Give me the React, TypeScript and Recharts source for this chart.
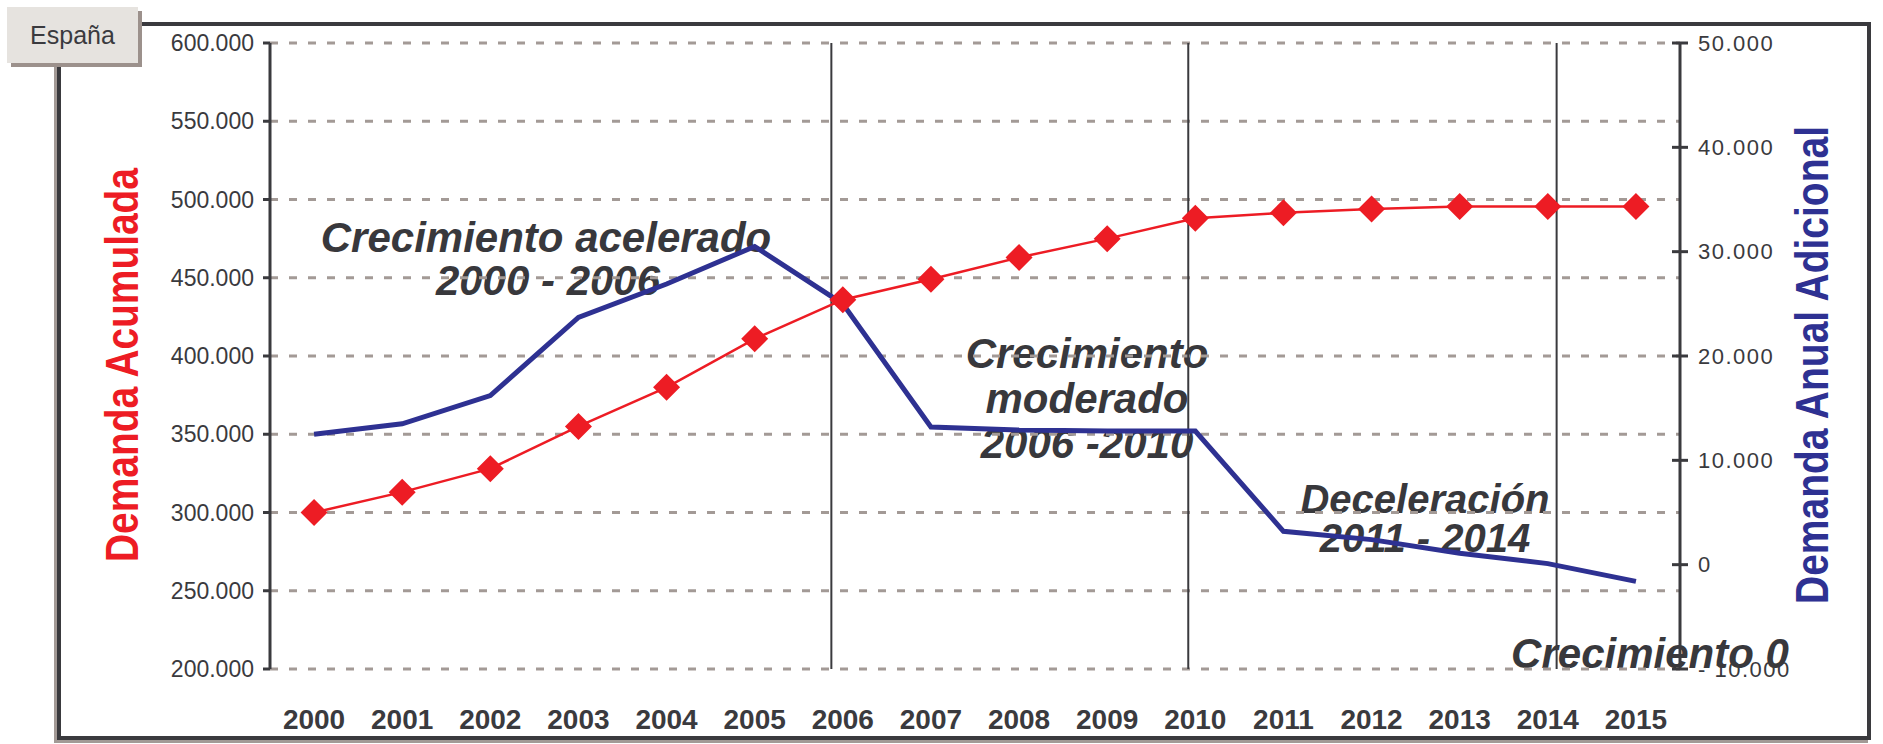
import React from 'react';
import { LineChart, Line, XAxis, YAxis, CartesianGrid, ReferenceLine } from 'recharts';

const years = ['2000', '2001', '2002', '2003', '2004', '2005', '2006', '2007', '2008', '2009', '2010', '2011', '2012', '2013', '2014', '2015'];
// Demanda Acumulada (eje izquierdo)
const demandaAcumulada = [300000, 313000, 328000, 355000, 380000, 411000, 436000, 449000, 463000, 475000, 488000, 491500, 494000, 495500, 495500, 495500];
// Demanda Anual Adicional (eje derecho)
const demandaAnual = [12500, 13500, 16200, 23700, 26900, 30500, 25000, 13200, 12900, 12800, 12800, 3200, 2400, 1100, 100, -1600];
const leftTicks = [200000, 250000, 300000, 350000, 400000, 450000, 500000, 550000, 600000];
const rightTicks = [-10000, 0, 10000, 20000, 30000, 40000, 50000];
// phase separators, in category index units
const phaseBreaks = [5.87, 9.92, 14.1];

const data = years.map((year, i) => ({
  year,
  idx: i,
  acumulada: demandaAcumulada[i],
  anual: demandaAnual[i],
}));

const FONT = "'Liberation Sans', Arial, sans-serif";
const DARK = '#3a3a3e';
const RED = '#ED1C24';
const NAVY = '#2E3192';

const fmt = (v: number) => {
  const s = Math.abs(v).toString().replace(/\B(?=(\d{3})+(?!\d))/g, '.');
  return v < 0 ? '- ' + s : s;
};

const Diamond = (props: any) => {
  const { cx, cy, index } = props;
  if (cx == null || cy == null) return <g key={`d-${index}`} />;
  const r = 13.5;
  return (
    <polygon
      key={`d-${index}`}
      points={`${cx - r},${cy} ${cx},${cy - r} ${cx + r},${cy} ${cx},${cy + r}`}
      fill={RED}
    />
  );
};

const RightTick = (props: any) => {
  const { x, y, payload } = props;
  const ax = x - 18;
  return (
    <g>
      <line x1={ax - 8} x2={ax + 8} y1={y} y2={y} stroke={DARK} strokeWidth={3} />
      <text x={x} y={y} dominantBaseline="central" fontSize={22} letterSpacing={1.5} fill={DARK} fontFamily={FONT}>
        {fmt(payload.value)}
      </text>
    </g>
  );
};

const YearTick = (props: any) => {
  const { x, y, payload } = props;
  return (
    <text x={x} y={y + 60} textAnchor="middle" fontSize={28} fontWeight="bold" fill={DARK} fontFamily={FONT}>
      {payload.value}
    </text>
  );
};

const noteStyle = { fontSize: 42, fontWeight: 'bold' as const, fontStyle: 'italic' as const, fill: '#38383c', fontFamily: FONT };

const App: React.FC = () => {
  return (
    <div style={{ position: 'fixed', left: 0, top: 0, width: 1883, height: 744, background: '#fff', overflow: 'hidden' }}>
      <div
        style={{
          position: 'absolute',
          left: 57,
          top: 22,
          width: 1871 - 57,
          height: 740 - 22,
          border: `4px solid ${DARK}`,
          boxSizing: 'border-box',
          boxShadow: '-3px 3px 0 #a39a96',
        }}
      />
      <svg width={1883} height={744} style={{ position: 'absolute', left: 0, top: 0 }}>
        <text x={122} y={365} transform="rotate(-90 122 365)" textAnchor="middle" dominantBaseline="central"
          fontSize={46} fontWeight="bold" fill={RED} fontFamily={FONT} textLength={394} lengthAdjust="spacingAndGlyphs">
          Demanda Acumulada
        </text>
        <text x={1812} y={365} transform="rotate(-90 1812 365)" textAnchor="middle" dominantBaseline="central"
          fontSize={46} fontWeight="bold" fill={NAVY} fontFamily={FONT} textLength={478} lengthAdjust="spacingAndGlyphs">
          Demanda Anual Adicional
        </text>
        <text x={546} y={252} textAnchor="middle" {...noteStyle}>Crecimiento acelerado</text>
        <text x={548} y={295} textAnchor="middle" {...noteStyle}>2000 - 2006</text>
        <text x={1087} y={368} textAnchor="middle" {...noteStyle}>Crecimiento</text>
        <text x={1087} y={413} textAnchor="middle" {...noteStyle}>moderado</text>
        <text x={1087} y={458} textAnchor="middle" {...noteStyle}>2006 -2010</text>
        <text x={1425} y={513} textAnchor="middle" {...noteStyle} fontSize={40}>Deceleración</text>
        <text x={1425} y={552} textAnchor="middle" {...noteStyle} fontSize={40}>2011 - 2014</text>
        <text x={1650} y={668} textAnchor="middle" {...noteStyle}>Crecimiento 0</text>
      </svg>
      <div style={{ position: 'absolute', left: 0, top: 0 }}>
        <LineChart width={1883} height={744} data={data} margin={{ top: 43, right: 103, left: 170, bottom: 15 }}>
          <CartesianGrid yAxisId="left" vertical={false} stroke="#a39a96" strokeWidth={3} strokeDasharray="8 11" />
          <XAxis dataKey="year" scale="band" axisLine={false} tickLine={false} tickSize={0} tickMargin={0} height={60} tick={<YearTick />} interval={0} />
          <XAxis
            xAxisId="pos"
            dataKey="idx"
            type="number"
            scale="linear"
            domain={['dataMin - 0.5', 'dataMax + 0.5']}
            allowDataOverflow
            hide
          />
          <YAxis
            yAxisId="left"
            width={100}
            domain={[200000, 600000]}
            ticks={leftTicks}
            interval={0}
            tickFormatter={fmt}
            axisLine={{ stroke: DARK, strokeWidth: 3 }}
            tickLine={{ stroke: DARK, strokeWidth: 3 }}
            tickSize={7}
            tickMargin={9}
            tick={{ fontSize: 23, fill: DARK, fontFamily: FONT }}
          />
          <YAxis
            yAxisId="right"
            orientation="right"
            width={100}
            domain={[-10000, 50000]}
            ticks={rightTicks}
            interval={0}
            axisLine={{ stroke: DARK, strokeWidth: 3 }}
            tickLine={false}
            tickSize={8}
            tickMargin={10}
            tick={<RightTick />}
          />
          {phaseBreaks.map((b) => (
            <ReferenceLine key={b} xAxisId="pos" yAxisId="left" x={b} stroke={DARK} strokeWidth={2} />
          ))}
          <Line yAxisId="right" type="linear" dataKey="anual" stroke={NAVY} strokeWidth={5} dot={false} isAnimationActive={false} />
          <Line yAxisId="left" type="linear" dataKey="acumulada" stroke={RED} strokeWidth={2.5} dot={Diamond} activeDot={false} isAnimationActive={false} />
        </LineChart>
      </div>
      <div
        style={{
          position: 'absolute',
          left: 7,
          top: 7,
          width: 131,
          height: 56,
          background: '#e6e3df',
          boxShadow: '4px 4px 0 #9c918c',
          display: 'flex',
          alignItems: 'center',
          justifyContent: 'center',
          fontFamily: FONT,
          fontSize: 25,
          color: DARK,
        }}
      >
        España
      </div>
    </div>
  );
};

export default App;
